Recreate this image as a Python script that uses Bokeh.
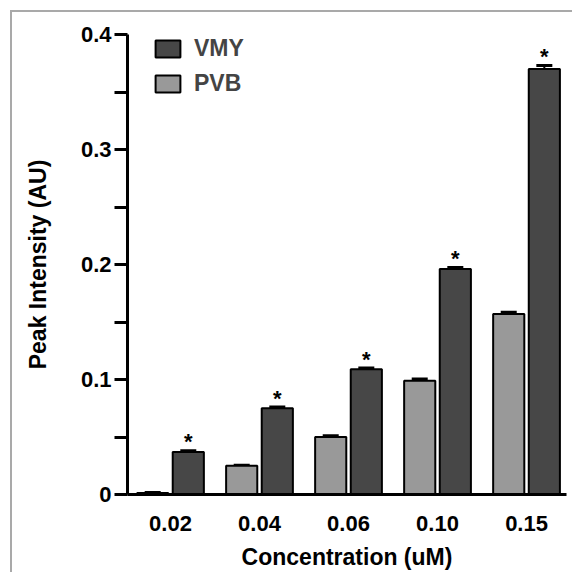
from bokeh.plotting import figure
from bokeh.models import (ColumnDataSource, FixedTicker, Whisker, TeeHead,
                          Legend, LegendItem)
from bokeh.core.properties import value
from bokeh.embed import file_html
from bokeh.resources import INLINE

# ---- data ----
categories = ["0.02", "0.04", "0.06", "0.10", "0.15"]
vmy = [0.037, 0.075, 0.109, 0.196, 0.370]
vmy_err = [0.001, 0.001, 0.001, 0.0015, 0.003]
pvb = [0.0012, 0.025, 0.050, 0.099, 0.157]
pvb_err = [0.0005, 0.0005, 0.001, 0.0015, 0.0015]
y_ticks = [0.0, 0.1, 0.2, 0.3, 0.4]
y_minor = [0.05, 0.15, 0.25, 0.35]
y_labels = ["0", "0.1", "0.2", "0.3", "0.4"]
sig = ["*", "*", "*", "*", "*"]

FONT = "Liberation Sans"
VMY_COLOR = "#474747"
PVB_COLOR = "#999999"

idx = list(range(len(categories)))
off = 0.2
bw = 0.35

src_v = ColumnDataSource(dict(x=[i + off for i in idx], top=vmy,
                              up=[v + e for v, e in zip(vmy, vmy_err)],
                              sig=sig))
src_p = ColumnDataSource(dict(x=[i - off for i in idx], top=pvb,
                              up=[v + e for v, e in zip(pvb, pvb_err)]))

p = figure(width=572, height=572, output_backend="svg", toolbar_location=None,
           x_range=(-0.483, 4.449), y_range=(0, 0.4),
           min_border_left=127, min_border_right=6,
           min_border_top=34, min_border_bottom=76)
p.styles = {"box-shadow": "inset 10px 10px 0 0 #ffffff, inset 12px 12px 0 0 #a9a9a9"}
p.border_fill_color = None
p.outline_line_color = None
p.grid.visible = False
p.background_fill_color = "white"

r_p = p.vbar(x="x", top="top", width=bw, source=src_p, fill_color=PVB_COLOR,
             line_color="black", line_width=2)
r_v = p.vbar(x="x", top="top", width=bw, source=src_v, fill_color=VMY_COLOR,
             line_color="black", line_width=2)

for src in (src_p, src_v):
    w = Whisker(base="x", upper="up", lower="top", source=src,
                line_color="black", line_width=2,
                upper_head=TeeHead(size=16, line_width=3, line_color="black"),
                lower_head=None)
    p.add_layout(w)

p.text(x="x", y="up", text="sig", source=src_v, text_align="center",
       text_baseline="alphabetic", y_offset=-9,
       text_font=value(FONT), text_font_style="bold", text_font_size="22px",
       text_color="black")

# axes
p.yaxis.ticker = FixedTicker(ticks=y_ticks, minor_ticks=y_minor)
p.yaxis.major_label_overrides = {t: l for t, l in zip(y_ticks, y_labels)}
p.xaxis.ticker = FixedTicker(ticks=idx)
p.xaxis.major_label_overrides = {i: c for i, c in zip(idx, categories)}

for ax in (p.xaxis, p.yaxis):
    ax.axis_line_width = 3
    ax.axis_line_color = "black"
    ax.major_label_text_font = FONT
    ax.major_label_text_font_style = "bold"
    ax.major_label_text_font_size = "22px"
    ax.major_label_text_color = "black"
    ax.axis_label_text_font = FONT
    ax.axis_label_text_font_style = "bold"
    ax.axis_label_text_font_size = "23px"
    ax.axis_label_text_color = "black"

p.yaxis.major_tick_out = 13
p.yaxis.major_tick_in = 0
p.yaxis.minor_tick_out = 13
p.yaxis.minor_tick_in = 0
p.yaxis.major_tick_line_width = 3
p.yaxis.minor_tick_line_width = 3
p.yaxis.major_label_standoff = 3
p.yaxis.axis_label = "Peak Intensity (AU)"
p.yaxis.axis_label_standoff = 27

p.xaxis.major_tick_line_color = None
p.xaxis.minor_tick_line_color = None
p.xaxis.major_label_standoff = 15
p.xaxis.axis_label = "Concentration (uM)"
p.xaxis.axis_label_standoff = 10

legend = Legend(items=[LegendItem(label="VMY", renderers=[r_v]),
                       LegendItem(label="PVB", renderers=[r_p])],
                location=(25, 397), padding=0, margin=0, spacing=8,
                glyph_width=31, glyph_height=21, label_standoff=11,
                label_text_font=FONT, label_text_font_style="bold",
                label_text_font_size="23px", border_line_color=None,
                background_fill_alpha=0)
p.add_layout(legend)

open("out.html", "w").write(file_html(p, INLINE))
